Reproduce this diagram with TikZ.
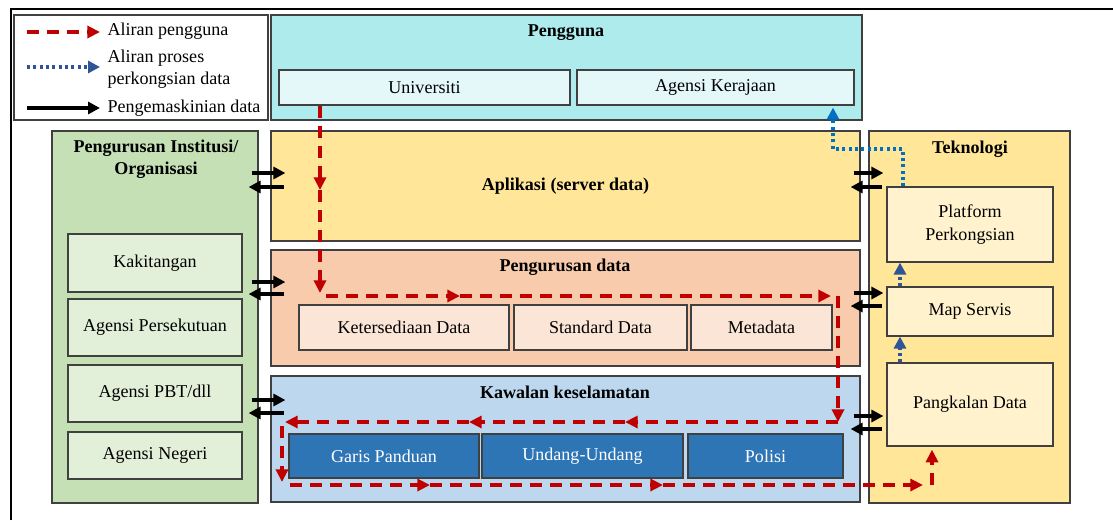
\documentclass[tikz,border=0pt]{standalone}
\usepackage{fontspec}
\setmainfont{Liberation Serif}
\usetikzlibrary{arrows.meta}
\tikzset{>=Triangle}
\definecolor{lineGrey}{HTML}{404040}
\definecolor{userCyan}{HTML}{ADEBEC}
\definecolor{userLight}{HTML}{E4F8F9}
\definecolor{appYellow}{HTML}{FFE699}
\definecolor{techLight}{HTML}{FFF2CC}
\definecolor{dataSalmon}{HTML}{F8CBAD}
\definecolor{dataLight}{HTML}{FBE5D6}
\definecolor{secBlue}{HTML}{BDD7EE}
\definecolor{secDark}{HTML}{2E75B6}
\definecolor{orgGreen}{HTML}{C5E0B4}
\definecolor{orgLight}{HTML}{E2F0D9}
\definecolor{flowRed}{HTML}{C00000}
\definecolor{shareBlue}{HTML}{0070C0}
\definecolor{shareDark}{HTML}{2F5597}

\begin{document}
\begin{tikzpicture}[x=0.03cm, y=-0.03cm,
  every node/.style={font=\fontsize{15.4}{19}\selectfont},
  box/.style={draw=lineGrey, line width=0.035cm, inner sep=0pt},
  title/.style={font=\fontsize{15.4}{19}\selectfont\bfseries},
  flow/.style={flowRed, line width=0.12cm, dash pattern=on 0.36cm off 0.24cm,
    -{Triangle[length=0.38cm,width=0.36cm]}},
  share/.style={shareBlue, line width=0.11cm, dash pattern=on 0.09cm off 0.1cm,
    -{Triangle[length=0.36cm,width=0.36cm]}},
  shareB/.style={share, shareDark},
  upd/.style={black, line width=0.12cm, -{Triangle[length=0.36cm,width=0.36cm]}},
  updR/.style={upd, shorten <=-0.21cm, shorten >=-0.45cm},
  updL/.style={upd, shorten <=-0.4cm, shorten >=-0.3cm}]
\useasboundingbox (0,0) rectangle (1113,520);
\draw[line width=0.07cm] (11,520) -- (11,9) -- (1113,9);

% legend
\node[box, fill=white, minimum width=7.62cm, minimum height=3.15cm] (legend) at (141,67.5) {};
\node[anchor=west, inner sep=0.1cm] (lgUser) at (104,31) {Aliran pengguna};
\node[anchor=west, inner sep=0.1cm, align=left, font=\fontsize{15.4}{19}\selectfont] (lgShare) at (104,69) {Aliran proses\\perkongsian data};
\node[anchor=west, inner sep=0.1cm] (lgUpd) at (104,108) {Pengemaskinian data};
\coordinate (lgA) at (27,32);
\coordinate (lgB) at (27,67);
\coordinate (lgC) at (27,108);
\draw[flow, shorten >=0.12cm] (lgA) -- (lgUser.west |- lgA);
\draw[shareB, shorten >=0.12cm] (lgB) -- (lgShare.west |- lgB);
\draw[upd, shorten >=0.12cm] (lgC) -- (lgUpd.west |- lgC);

% pengguna
\node[box, fill=userCyan, minimum width=17.73cm, minimum height=3.15cm] (user) at (566.5,67.5) {};
\node[title] at (566,33) {Pengguna};
\node[box, fill=userLight, minimum width=8.73cm, minimum height=1.05cm] (univ) at (424.5,87.5) {Universiti};
\node[box, fill=userLight, minimum width=8.31cm, minimum height=1.05cm] (agk) at (715.5,87.5) {Agensi Kerajaan};

% pengurusan institusi
\node[box, fill=orgGreen, minimum width=6.18cm, minimum height=11.16cm] (org) at (155,317) {};
\node[title, align=center] at (156,159) {Pengurusan Institusi/\\Organisasi};
\node[box, fill=orgLight, minimum width=5.22cm, minimum height=1.74cm] (staff) at (155,263) {Kakitangan};
\node[box, fill=orgLight, minimum width=5.22cm, minimum height=1.71cm] (fed) at (155,327.5) {Agensi Persekutuan};
\node[box, fill=orgLight, minimum width=5.22cm, minimum height=1.71cm] (pbt) at (155,393.5) {Agensi PBT/dll};
\node[box, fill=orgLight, minimum width=5.22cm, minimum height=1.41cm] (state) at (155,455.5) {Agensi Negeri};

% aplikasi
\node[box, fill=appYellow, minimum width=17.67cm, minimum height=3.3cm, title] (apl) at (565.5,186) {Aplikasi (server data)};

% pengurusan data
\node[box, fill=dataSalmon, minimum width=17.67cm, minimum height=3.48cm] (pdata) at (565.5,308) {};
\node[title] at (565,267) {Pengurusan data};
\node[box, fill=dataLight, minimum width=6.3cm, minimum height=1.35cm] (avail) at (404,327.5) {Ketersediaan Data};
\node[box, fill=dataLight, minimum width=5.19cm, minimum height=1.35cm] (std) at (600.5,327.5) {Standard Data};
\node[box, fill=dataLight, minimum width=4.23cm, minimum height=1.35cm] (meta) at (761.5,327.5) {Metadata};

% kawalan keselamatan
\node[box, fill=secBlue, minimum width=17.67cm, minimum height=3.78cm] (kawal) at (565.5,439) {};
\node[title] at (565,392) {Kawalan keselamatan};
\node[box, fill=secDark, text=white, minimum width=5.7cm, minimum height=1.32cm] (guide) at (384,456) {Garis Panduan};
\node[box, fill=secDark, text=white, minimum width=6.03cm, minimum height=1.32cm] (law) at (582.5,456) {Undang-Undang};
\node[box, fill=secDark, text=white, minimum width=4.65cm, minimum height=1.32cm] (policy) at (765.5,456) {Polisi};

% teknologi
\node[box, fill=appYellow, minimum width=6.03cm, minimum height=11.16cm] (tek) at (969.5,317) {};
\node[title] at (970,149) {Teknologi};
\node[box, fill=techLight, minimum width=4.98cm, minimum height=2.25cm, align=center] (plat) at (970,224.5) {Platform\\Perkongsian};
\node[box, fill=techLight, minimum width=4.98cm, minimum height=1.47cm] (map) at (970,311.5) {Map Servis};
\node[box, fill=techLight, minimum width=4.98cm, minimum height=2.49cm] (pangk) at (970,404.5) {Pangkalan Data};

% pengemaskinian data
\draw[updR] (org.east |- 0,173) -- (apl.west |- 0,173);
\draw[updL] (apl.west |- 0,187) -- (org.east |- 0,187);
\draw[updR] (org.east |- 0,282) -- (pdata.west |- 0,282);
\draw[updL] (pdata.west |- 0,294) -- (org.east |- 0,294);
\draw[updR] (org.east |- 0,400) -- (kawal.west |- 0,400);
\draw[updL] (kawal.west |- 0,413) -- (org.east |- 0,413);
\draw[updR] (apl.east |- 0,173) -- (tek.west |- 0,173);
\draw[updL] (tek.west |- 0,187) -- (apl.east |- 0,187);
\draw[updR] (pdata.east |- 0,293) -- (tek.west |- 0,293);
\draw[updL] (tek.west |- 0,306) -- (pdata.east |- 0,306);
\draw[updR] (kawal.east |- 0,416) -- (tek.west |- 0,416);
\draw[updL] (tek.west |- 0,429) -- (kawal.east |- 0,429);

% perkongsian data
\coordinate (s1) at (833,149);
\draw[share, shorten >=0.06cm] (plat.north -| 903,0) |- (s1) -- (agk.south -| s1);
\draw[shareB] (map.north -| 900,0) -- (plat.south -| 900,0);
\draw[shareB] (pangk.north -| 900,0) -- (map.south -| 900,0);

% aliran pengguna
\coordinate (f1) at (320,190);
\coordinate (f2) at (320,293);
\coordinate (f3) at (326,296);
\coordinate (f4) at (460,296);
\coordinate (f5) at (831,296);
\coordinate (f6) at (838,296);
\coordinate (f7) at (838,422);
\coordinate (f8) at (625,422);
\coordinate (f9) at (469,422);
\coordinate (f10) at (285,422);
\coordinate (f11) at (282,426);
\coordinate (f12) at (282,482);
\coordinate (f13) at (290,485);
\coordinate (f14) at (430,485);
\coordinate (f15) at (663,485);
\coordinate (f16) at (923,485);
\coordinate (f17) at (932,485);
\draw[flow] (univ.south -| f1) -- (f1);
\draw[flow] (f1) -- (f2);
\draw[flow] (f3) -- (f4);
\draw[flow] (f4) -- (f5);
\draw[flow] (f6) -- (f7);
\draw[flow] (f7) -- (f8);
\draw[flow] (f8) -- (f9);
\draw[flow] (f9) -- (f10);
\draw[flow] (f11) -- (f12);
\draw[flow] (f13) -- (f14);
\draw[flow] (f14) -- (f15);
\draw[flow] (f15) -- (f16);
\draw[flow, shorten >=0.09cm] (f17) -- (pangk.south -| f17);
\end{tikzpicture}
\end{document}
